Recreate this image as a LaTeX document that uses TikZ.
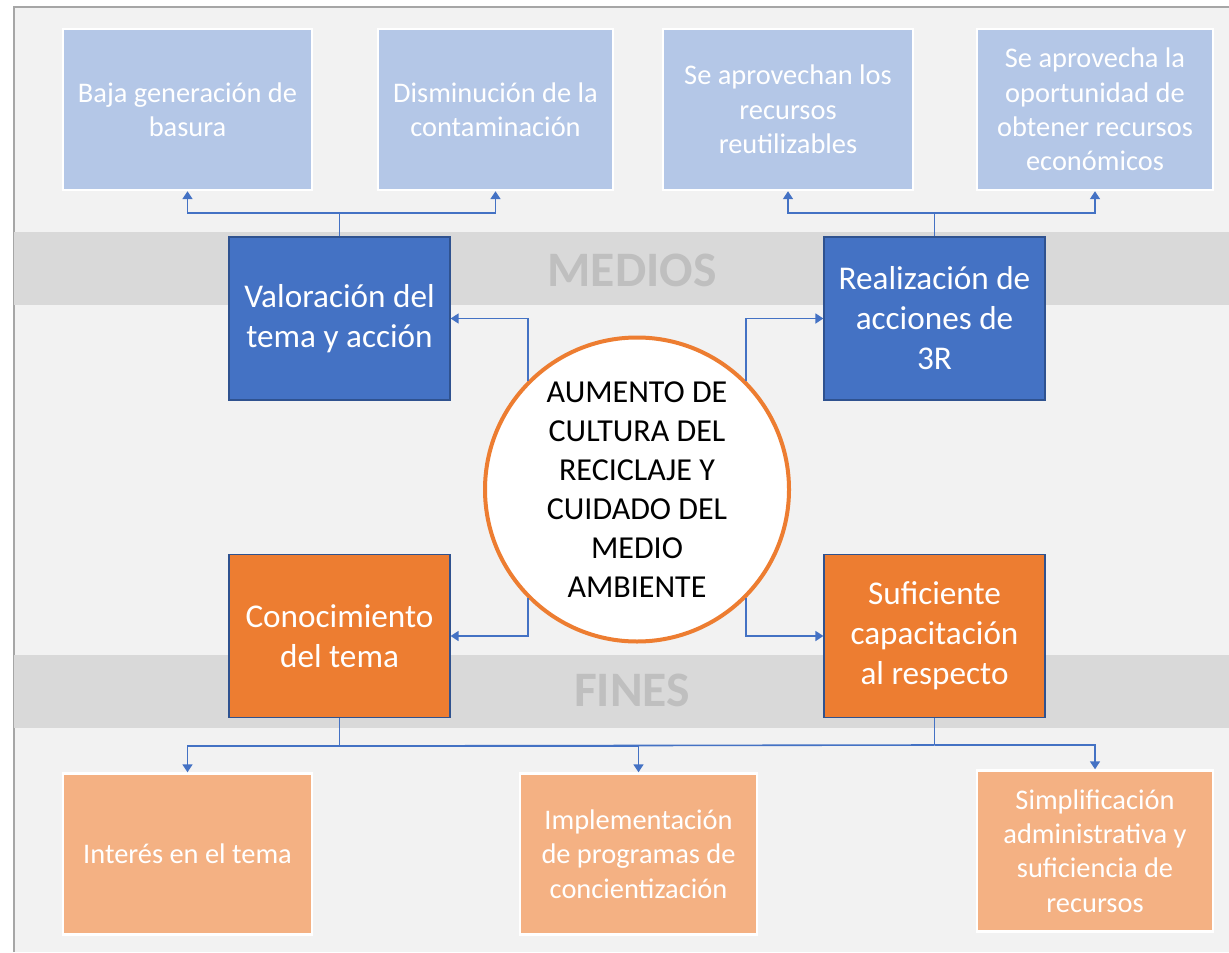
\documentclass[tikz,border=0pt]{standalone}
\usepackage{fontspec}
\setmainfont{Carlito}
\usetikzlibrary{arrows.meta}
\definecolor{fondo}{HTML}{F2F2F2}
\definecolor{banda}{HTML}{D9D9D9}
\definecolor{marco}{HTML}{A6A6A6}
\definecolor{rotulo}{HTML}{BFBFBF}
\definecolor{azul}{HTML}{4472C4}
\definecolor{azulclaro}{HTML}{B4C7E7}
\definecolor{naranja}{HTML}{ED7D31}
\definecolor{naranjaclaro}{HTML}{F4B183}
\definecolor{borde}{HTML}{2F528F}
\tikzset{inner sep=0pt}

\begin{document}
\begin{tikzpicture}[x=0.5pt,y=-0.5pt,
    efecto/.style={rectangle,draw=white,line width=1.2pt,fill=azulclaro,text=white,
        align=center,font=\fontsize{14.2}{17.2}\selectfont,minimum width=#1,minimum height=80.5pt},
    causa/.style={efecto=#1,fill=naranjaclaro},
    medio/.style={rectangle,draw=borde,line width=0.6pt,fill=azul,text=white,
        align=center,font=\fontsize{16.6}{20}\selectfont,minimum width=110.5pt,minimum height=81.5pt},
    fin/.style={medio,fill=naranja},
    rotulo/.style={text=rotulo,font=\fontsize{24.8}{28}\selectfont\bfseries},
    flecha/.style={draw=azul,line width=0.8pt,-{Triangle[length=4pt,width=5pt]}},
    linea/.style={draw=azul,line width=0.8pt}]
    \useasboundingbox (0,0) rectangle (1229,952);
    % fondo y bandas
    \fill[fondo] (14,7) rectangle (1229,952);
    \draw[marco,line width=0.6pt] (14,952) -- (14,7) -- (1229,7);
    \fill[banda] (14,232) rectangle (1229,305);
    \fill[banda] (14,655) rectangle (1229,728);
    \node[rotulo] (medios) at (632,270) {MEDIOS};
    \node[rotulo] (fines) at (632,690) {FINES};

    % efectos
    \node[efecto=124.5pt] (baja) at (187.5,109.5) {Baja generación de\\basura};
    \node[efecto=117.5pt] (dism) at (495.5,109.5) {Disminución de la\\contaminación};
    \node[efecto=125pt] (aprov) at (788,109.5) {Se aprovechan los\\recursos\\reutilizables};
    \node[efecto=118pt] (oport) at (1095,109.5) {Se aprovecha la\\oportunidad de\\obtener recursos\\económicos};

    % medios y fines
    \node[medio] (valor) at (339.5,318.5) {Valoración del\\tema y acción};
    \node[medio] (real) at (934.5,318.5) {Realización de\\acciones de\\3R};
    \node[fin] (conoc) at (339.5,636) {Conocimiento\\del tema};
    \node[fin] (sufic) at (934.5,636) {Suficiente\\capacitación\\al respecto};

    % centro
    \node[circle,draw=naranja,line width=2pt,fill=white,minimum size=152pt,align=center,
        font=\fontsize{16}{19.5}\selectfont] (meta) at (637,489.5)
        {AUMENTO DE\\CULTURA DEL\\RECICLAJE Y\\CUIDADO DEL\\MEDIO\\AMBIENTE};

    % causas
    \node[causa=124.5pt] (inter) at (187.5,854) {Interés en el tema};
    \node[causa=118.5pt] (impl) at (638.5,854) {Implementación\\de programas de\\concientización};
    \node[causa=118pt] (simp) at (1095,851) {Simplificación\\administrativa y\\suficiencia de\\recursos};

    % conectores
    \coordinate (jv) at (valor.north |- 0,213);
    \coordinate (jr) at (real.north |- 0,213);
    \coordinate (jc) at (conoc.south |- 0,746);
    \coordinate (js) at (sufic.south |- 0,745);
    \draw[linea] (valor.north) -- (jv);
    \draw[flecha] (jv) -| (baja.south);
    \draw[flecha] (jv) -| (dism.south);
    \draw[linea] (real.north) -- (jr);
    \draw[flecha] (jr) -| (aprov.south);
    \draw[flecha] (jr) -| (oport.south);
    \draw[flecha] (meta.north west) |- (valor.east);
    \draw[flecha] (meta.north east) |- (real.west);
    \draw[flecha] (meta.south west) |- (conoc.east);
    \draw[flecha] (meta.south east) |- (sufic.west);
    \draw[linea] (conoc.south) -- (jc);
    \draw[flecha] (jc) -| (inter.north);
    \draw[flecha] (jc) -| (impl.north);
    \draw[linea] (sufic.south) -- (js);
    \draw[linea] (js) -- (jc);
    \draw[flecha] (js) -| (simp.north);
\end{tikzpicture}
\end{document}
